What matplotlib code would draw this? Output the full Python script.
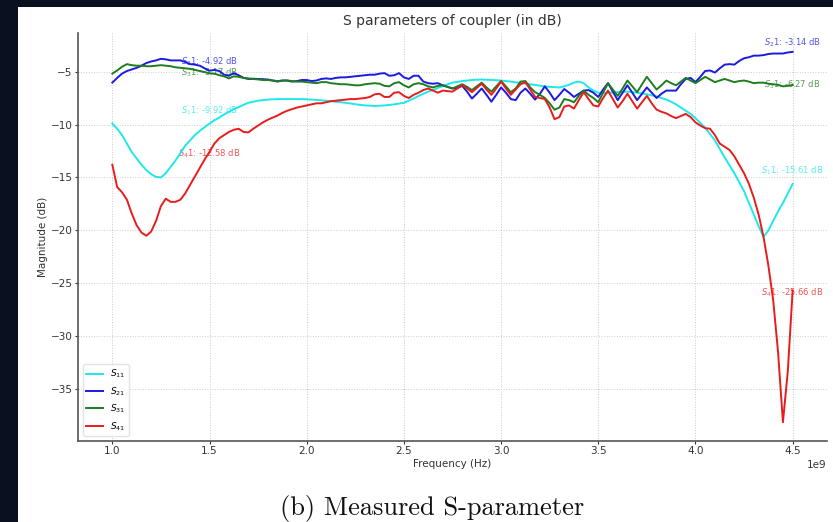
import numpy as np
import matplotlib
matplotlib.use("Agg")
import matplotlib.pyplot as plt
from matplotlib.patches import Rectangle

# frequency sweep in GHz (1.0 .. 4.5, 0.025 step)
freq_ghz = np.linspace(1.0, 4.5, 141)

s11 = [-9.9, -10.4, -11.0, -11.8, -12.6, -13.2, -13.8, -14.3, -14.7, -14.95,
       -15.0, -14.6, -14.0, -13.4, -12.7, -12.0, -11.5, -11.0, -10.6, -10.25,
       -9.92, -9.6, -9.35, -9.05, -8.8, -8.55, -8.35, -8.15, -7.95, -7.85,
       -7.75, -7.7, -7.65, -7.62, -7.6, -7.6, -7.6, -7.6, -7.6, -7.6,
       -7.62, -7.65, -7.68, -7.72, -7.75, -7.8, -7.85, -7.9, -7.95, -8.02,
       -8.1, -8.15, -8.2, -8.23, -8.25, -8.23, -8.2, -8.15, -8.1, -8.03,
       -7.95, -7.75, -7.55, -7.3, -7.1, -6.9, -6.75, -6.55, -6.35, -6.2,
       -6.05, -5.97, -5.9, -5.85, -5.8, -5.77, -5.75, -5.77, -5.8, -5.82,
       -5.85, -5.9, -5.95, -6.02, -6.1, -6.15, -6.2, -6.27, -6.35, -6.4,
       -6.45, -6.48, -6.5, -6.4, -6.25, -6.05, -5.95, -6.1, -6.5, -6.8,
       -7.0, -7.05, -7.0, -6.97, -6.95, -6.92, -6.9, -6.95, -7.0, -7.07,
       -7.15, -7.25, -7.35, -7.5, -7.65, -7.85, -8.1, -8.4, -8.7, -9.0,
       -9.4, -9.85, -10.3, -10.9, -11.5, -12.3, -13.1, -13.85, -14.6, -15.45,
       -16.3, -17.4, -18.5, -19.6, -20.6, -20.0, -19.1, -18.2, -17.4, -16.5,
       -15.61]

s21 = [-6.05, -5.6, -5.2, -4.95, -4.8, -4.65, -4.45, -4.2, -4.05, -3.95,
       -3.8, -3.85, -3.95, -3.95, -3.95, -4.1, -4.3, -4.35, -4.45, -4.7,
       -4.92, -4.85, -4.95, -5.3, -5.4, -5.15, -5.35, -5.6, -5.7, -5.68,
       -5.7, -5.72, -5.75, -5.85, -5.95, -5.85, -5.85, -5.95, -5.9, -5.8,
       -5.8, -5.9, -5.85, -5.7, -5.65, -5.7, -5.6, -5.55, -5.55, -5.5,
       -5.45, -5.4, -5.35, -5.3, -5.3, -5.2, -5.15, -5.4, -5.35, -5.15,
       -5.55, -5.7, -5.4, -5.4, -5.95, -6.1, -6.15, -6.1, -6.3, -6.45,
       -6.6, -6.55, -6.35, -6.9, -7.55, -7.1, -6.6, -7.2, -7.85, -7.2,
       -6.5, -7.0, -7.6, -7.7, -7.0, -6.6, -7.1, -7.65, -7.1, -6.4,
       -7.0, -7.7, -7.2, -6.65, -7.0, -7.4, -7.1, -6.8, -6.75, -7.0,
       -7.4, -6.7, -6.1, -6.9, -7.7, -7.0, -6.3, -7.0, -7.7, -7.1,
       -6.5, -7.0, -7.5, -7.1, -6.8, -6.8, -6.8, -6.2, -5.7, -5.6,
       -6.0, -5.5, -4.95, -4.9, -5.1, -4.7, -4.35, -4.3, -4.35, -4.0,
       -3.75, -3.65, -3.5, -3.5, -3.45, -3.35, -3.3, -3.3, -3.3, -3.2,
       -3.14]

s31 = [-5.2, -4.9, -4.55, -4.3, -4.4, -4.45, -4.45, -4.5, -4.5, -4.45,
       -4.4, -4.45, -4.5, -4.6, -4.65, -4.7, -4.75, -4.85, -4.95, -5.05,
       -5.17, -5.2, -5.35, -5.45, -5.65, -5.45, -5.5, -5.6, -5.65, -5.7,
       -5.75, -5.8, -5.8, -5.85, -5.9, -5.85, -5.85, -5.9, -5.95, -5.95,
       -6.0, -6.05, -6.1, -6.0, -6.0, -6.1, -6.15, -6.2, -6.2, -6.25,
       -6.3, -6.3, -6.2, -6.15, -6.1, -6.15, -6.35, -6.4, -6.1, -6.0,
       -6.3, -6.5, -6.2, -6.1, -6.2, -6.4, -6.5, -6.35, -6.3, -6.45,
       -6.6, -6.4, -6.2, -6.45, -6.75, -6.4, -6.05, -6.5, -6.9, -6.4,
       -5.9, -6.4, -6.95, -6.6, -5.95, -5.9, -6.5, -6.95, -7.2, -7.5,
       -8.0, -8.6, -8.4, -7.6, -7.7, -7.9, -7.3, -6.8, -7.2, -7.5,
       -7.9, -7.0, -6.1, -6.7, -7.3, -6.6, -5.85, -6.4, -6.95, -6.2,
       -5.5, -6.1, -6.7, -6.3, -5.85, -6.1, -6.3, -5.95, -5.6, -5.85,
       -6.1, -5.8, -5.5, -5.75, -6.0, -5.85, -5.7, -5.85, -6.0, -5.9,
       -5.85, -5.95, -6.1, -6.05, -6.05, -6.15, -6.2, -6.25, -6.4, -6.35,
       -6.27]

s41 = [-13.8, -15.9, -16.4, -17.1, -18.4, -19.5, -20.2, -20.5, -20.1, -19.1,
       -17.7, -17.0, -17.3, -17.3, -17.1, -16.5, -15.7, -14.9, -14.1, -13.3,
       -12.58, -11.8, -11.3, -11.0, -10.7, -10.5, -10.4, -10.7, -10.75, -10.4,
       -10.1, -9.8, -9.55, -9.35, -9.15, -8.9, -8.7, -8.55, -8.4, -8.3,
       -8.2, -8.1, -8.0, -8.0, -7.9, -7.8, -7.75, -7.7, -7.65, -7.6,
       -7.6, -7.55, -7.5, -7.4, -7.15, -7.1, -7.4, -7.4, -7.0, -6.95,
       -7.3, -7.5, -7.2, -7.0, -6.75, -6.6, -6.8, -7.0, -6.8, -6.85,
       -6.9, -6.6, -6.3, -6.6, -6.95, -6.55, -6.15, -6.7, -7.2, -6.6,
       -5.95, -6.6, -7.2, -6.7, -6.2, -6.0, -6.7, -7.4, -7.5, -7.6,
       -8.4, -9.5, -9.3, -8.3, -8.2, -8.5, -7.7, -6.95, -7.6, -8.2,
       -8.3, -7.5, -6.8, -7.6, -8.4, -7.8, -7.1, -7.8, -8.5, -7.9,
       -7.3, -8.0, -8.6, -8.8, -8.95, -9.2, -9.4, -9.2, -9.0, -9.3,
       -9.8, -10.1, -10.35, -10.4, -11.0, -11.8, -12.1, -12.4, -13.0, -13.8,
       -14.6, -15.6, -16.9, -18.5, -20.6, -23.3, -26.6, -31.5, -38.1, -33.3,
       -25.66]

series = [s11, s21, s31, s41]
legend_names = [r'$S_{11}$', r'$S_{21}$', r'$S_{31}$', r'$S_{41}$']
tag_names = [r'$S_11$', r'$S_21$', r'$S_31$', r'$S_41$']
colors = ['#1ee8e8', '#1a1ae0', '#1e7d1e', '#e81c1c']
tag_dy = [1.2, 0.85, 0.05, -0.2]
mark_idx = [20, 140]   # 1.5 GHz and 4.5 GHz

freq_hz = freq_ghz * 1e9

fig = plt.figure(figsize=(8.33, 5.22), dpi=100, facecolor='#0a1020')
fig.add_artist(Rectangle((18 / 833, 0), 1 - 18 / 833, 1 - 7 / 522,
                         transform=fig.transFigure, facecolor='white',
                         edgecolor='none', zorder=0))

ax = fig.add_axes([0.094, 0.1557, 0.8984, 0.7805])
ax.set_facecolor('white')

for ys, name, col in zip(series, legend_names, colors):
    ax.plot(freq_hz, ys, color=col, lw=1.4, label=name, zorder=2)

for ys, tag, col, dy in zip(series, tag_names, colors, tag_dy):
    for i in mark_idx:
        ax.text(freq_hz[i], ys[i] + dy, f'{tag}: {ys[i]:.2f} dB', color=col,
                alpha=0.75, fontsize=6, ha='center', va='center', zorder=1)

ax.set_title('S parameters of coupler (in dB)', fontsize=10, color='#333333', pad=6)
ax.set_xlabel('Frequency (Hz)', fontsize=7.5, color='#333333', labelpad=2)
ax.set_ylabel('Magnitude (dB)', fontsize=7.5, color='#333333', labelpad=2)

ax.grid(True, linestyle=':', color='#cccccc', lw=0.7)
ax.set_axisbelow(True)
for side in ['top', 'right']:
    ax.spines[side].set_visible(False)
for side in ['left', 'bottom']:
    ax.spines[side].set_color('#555555')
    ax.spines[side].set_linewidth(1.2)
ax.tick_params(labelsize=7.5, colors='#333333', length=2.5, pad=1.5)
ax.xaxis.get_offset_text().set_fontsize(7.5)
ax.xaxis.get_offset_text().set_color('#333333')

ax.legend(loc='lower left', fontsize=6.5, handlelength=1.8, labelspacing=0.55,
          borderaxespad=0.5, framealpha=0.8, edgecolor='#dddddd')

fig.text(432 / 833, 1 - 515 / 522, '(b) Measured S-parameter', fontfamily='cmr10',
         fontsize=19, ha='center', va='baseline', color='#111111')

fig.savefig('out.png', dpi=100, facecolor=fig.get_facecolor())
